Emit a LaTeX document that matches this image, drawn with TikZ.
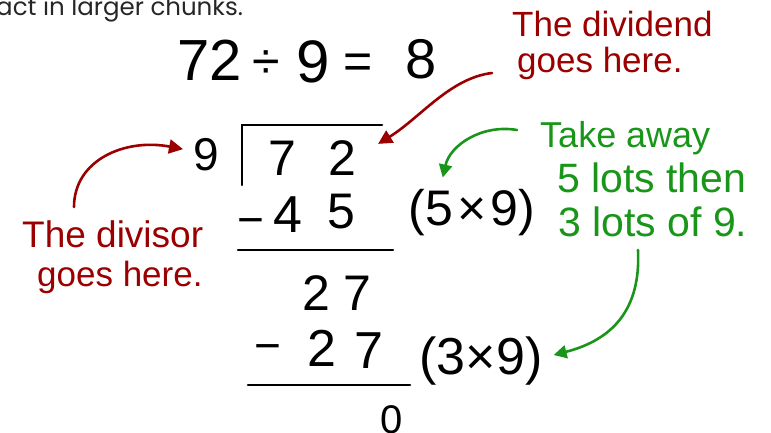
\documentclass[tikz,border=0pt]{standalone}
\usepackage{fontspec}
\setmainfont{Liberation Sans}
\newfontfamily\topfont{Poppins}
\usetikzlibrary{arrows.meta}
\definecolor{handred}{RGB}{155,0,0}
\definecolor{handgreen}{RGB}{25,150,25}
\tikzset{
  fs/.style={font=\fontsize{#1}{#1}\selectfont},
  dig/.style={inner sep=0pt, anchor=base},
  redlbl/.style={inner sep=0pt, anchor=base west, text=handred, fs=35},
  greenlbl/.style={inner sep=0pt, anchor=base west, text=handgreen, fs=36},
  rule/.style={line width=2.6pt, line cap=round},
  redarrow/.style={draw=handred, line width=2.6pt, line cap=round, -{Triangle[length=14pt,width=14pt]}},
  greenarrow/.style={draw=handgreen, line width=2.6pt, line cap=round, -{Triangle[length=13pt,width=13pt]}}
}
\begin{document}
\begin{tikzpicture}[x=1pt,y=-1pt]
\useasboundingbox (0,0) rectangle (771,432);
% top line of text
\node[inner sep=0pt, anchor=base west, font=\topfont\fontsize{24.5}{24.5}\selectfont, text=black!85] (toptext) at (-4,15) {act in larger chunks.};
% equation
\node[dig, fs=58] (e72) at (210,80) {72};
\node[dig, fs=50] (ediv) at (266,78) {÷};
\node[dig, fs=60] (e9) at (313,82) {9};
\node[dig, fs=50] (eeq) at (358,78) {=};
\node[dig, fs=56] (e8) at (421,78) {8};
% long division
\node[dig, fs=46] (nine) at (206,170) {9};
\draw[rule] (242,185) -- (242,125) -- (382,125);
\node[dig, fs=50] (dA7) at (282,175) {7};
\node[dig, fs=50] (dA2) at (342,175) {2};
\node[dig, fs=46] (mA) at (251,235) {−};
\node[dig, fs=52] (dB4) at (288,232) {4};
\node[dig, fs=50] (dB5) at (341,228) {5};
\node[inner sep=0pt, fs=50] (p59) at (472,213) {(5\kern4pt×\kern4pt9)};
\draw[rule] (238,250) -- (393,250);
\node[dig, fs=50] (dC2) at (316,310) {2};
\node[dig, fs=50] (dC7) at (357,310) {7};
\node[dig, fs=46] (mB) at (268,361) {−};
\node[dig, fs=52] (dD2) at (322,366) {2};
\node[dig, fs=52] (dD7) at (369,368) {7};
\node[inner sep=0pt, fs=52] (p39) at (481,361) {(3×9)};
\draw[rule] (248,385) -- (410,385);
\node[dig, fs=40] (dE0) at (392,433) {0};
% red labels
\node[redlbl] (dvdA) at (512,36) {The dividend};
\node[redlbl] (dvdB) at (517,72) {goes here.};
\node[redlbl, fs=37] (dvsA) at (22,247) {The divisor};
\node[redlbl] (dvsB) at (37,286) {goes here.};
% green labels
\node[greenlbl] (takeA) at (540,147) {Take away};
\node[greenlbl, fs=41] (takeB) at (557,192) {5 lots then};
\node[greenlbl, fs=41] (takeC) at (558,236) {3 lots of 9.};
% arrows
\coordinate (rLs) at (74,207);
\coordinate (gBs) at (638,250);
\draw[redarrow] ([xshift=-25pt,yshift=-1pt]dvdB.base west) .. controls (450,78) and (420,118) .. ([xshift=22pt,yshift=-4pt]dA2.north east);
\draw[redarrow] (rLs) .. controls (74,160) and (125,138) .. ([xshift=-10pt,yshift=5pt]nine.west);
\draw[greenarrow] ([xshift=-23pt,yshift=17pt]takeA.base west) .. controls (482,124) and (450,145) .. ([xshift=34pt,yshift=12pt]p59.north west);
\draw[greenarrow] (gBs) .. controls (641,310) and (612,340) .. ([xshift=11pt,yshift=6pt]p39.east);
\end{tikzpicture}
\end{document}
